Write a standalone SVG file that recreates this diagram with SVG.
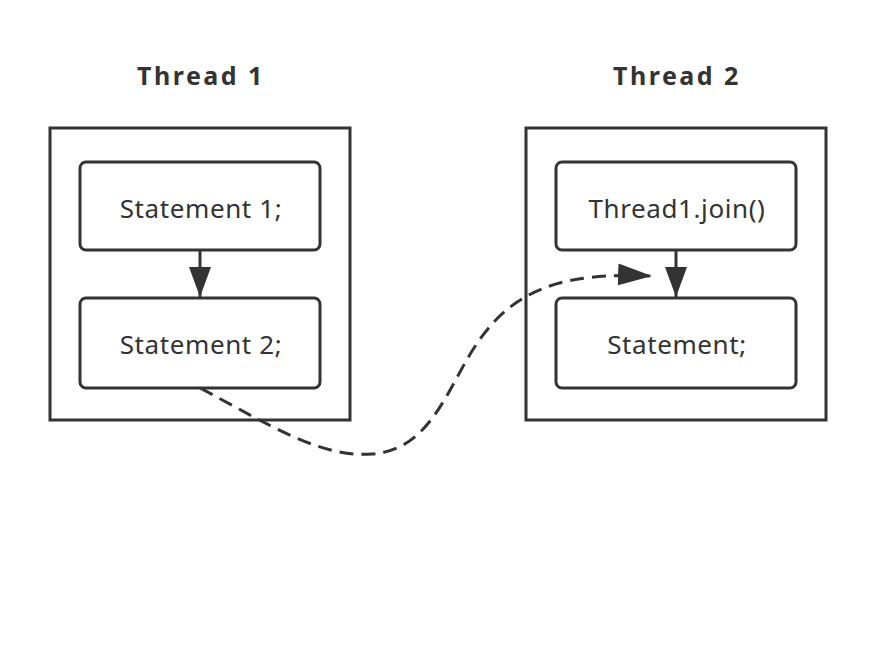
<svg xmlns="http://www.w3.org/2000/svg" width="876" height="648" viewBox="0 0 876 648">
<defs>
<style>
.frame{fill:#fff;stroke:#333;stroke-width:3}
.node{fill:#fff;stroke:#333;stroke-width:3}
.title{font-family:"Noto Sans","DejaVu Sans",sans-serif;font-size:25px;font-weight:bold;fill:#333;text-anchor:middle;letter-spacing:2.5px}
.label{font-family:"Noto Sans","DejaVu Sans",sans-serif;font-size:26px;fill:#333;text-anchor:middle;letter-spacing:0.6px}
.conn{fill:none;stroke:#333;stroke-width:3}
</style>
<marker id="ah" markerUnits="userSpaceOnUse" markerWidth="34" markerHeight="24" refX="34" refY="12" orient="auto">
<path d="M0,1 L34,12 L0,23 Z" fill="#333"/>
</marker>
<marker id="ahs" markerUnits="userSpaceOnUse" markerWidth="30" markerHeight="22" refX="30" refY="11" orient="auto">
<path d="M0,0 L30,11 L0,22 Z" fill="#333"/>
</marker>
</defs>
<rect width="876" height="648" fill="#fff"/>
<g id="thread1">
<text class="title" x="201" y="85">Thread 1</text>
<rect class="frame" x="50" y="128" width="300" height="292"/>
</g>
<g id="thread2">
<text class="title" x="677" y="85">Thread 2</text>
<rect class="frame" x="526" y="128" width="300" height="292"/>
</g>
<g id="stmt1">
<rect class="node" x="80" y="162" width="240" height="88" rx="6"/>
<text class="label" x="201" y="218">Statement 1;</text>
</g>
<g id="stmt2">
<rect class="node" x="80" y="298" width="240" height="90" rx="6"/>
<text class="label" x="201" y="354">Statement 2;</text>
</g>
<g id="join">
<rect class="node" x="556" y="162" width="240" height="88" rx="6"/>
<text class="label" x="677" y="218">Thread1.join()</text>
</g>
<g id="stmt">
<rect class="node" x="556" y="298" width="240" height="90" rx="6"/>
<text class="label" x="677" y="354">Statement;</text>
</g>
<g id="connectors">
<line class="conn" x1="200" y1="250" x2="200" y2="297" marker-end="url(#ahs)"/>
<line class="conn" x1="676" y1="250" x2="676" y2="297" marker-end="url(#ahs)"/>
<path class="conn" stroke-width="3.5" stroke-dasharray="14,8" d="M200,388 C270,425 320,458 372,454 C432,450 448,385 478,342 C515,288 565,272 652,276" marker-end="url(#ah)"/>
</g>
</svg>
